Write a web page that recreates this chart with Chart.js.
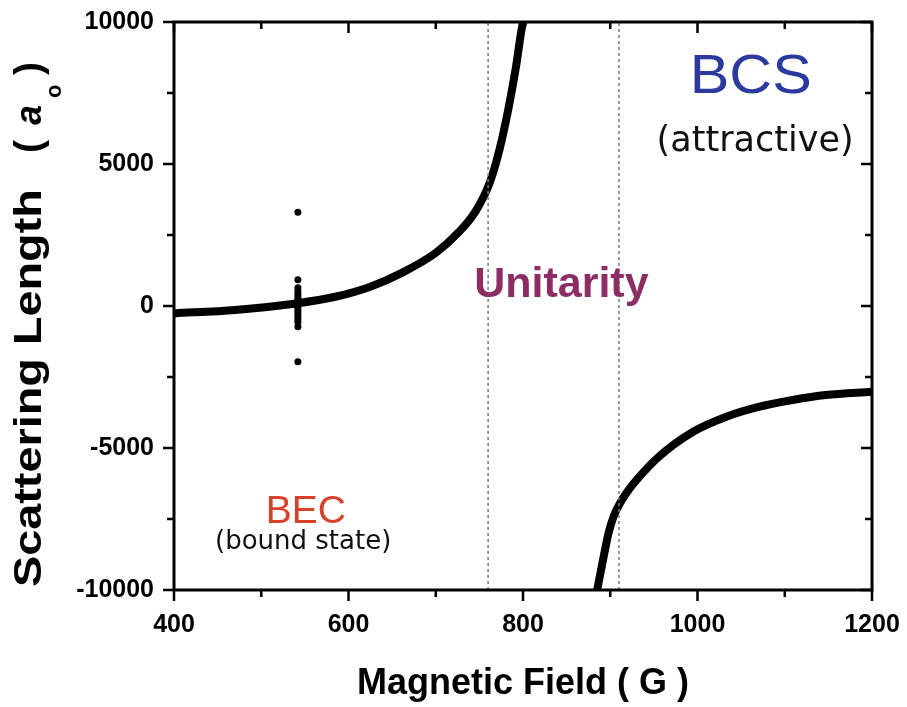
<!DOCTYPE html>
<html>
<head>
<title>Scattering length vs magnetic field</title>
<script src="https://cdn.jsdelivr.net/npm/chart.js@4/dist/chart.umd.min.js"></script>
<style>
body { margin: 0; background: #fff; }
#wrap { position: relative; width: 907px; height: 707px; }
</style>
</head>
<body>
<div id="wrap"><canvas id="chart"></canvas></div>

<script>
// values: field in G, scattering length in a0
const lowBranchField   = [400, 470, 540, 585, 625, 660, 700, 727, 746, 762, 773, 783, 792, 799, 800.5];
const lowBranchLength  = [-260, -140, 90, 325, 680, 1150, 1870, 2620, 3350, 4350, 5500, 6900, 8430, 9840, 10000];
const highBranchField  = [885, 892, 898, 904, 912, 921, 930, 956, 995, 1033, 1071, 1109, 1147, 1200];
const highBranchLength = [-10000, -8900, -8000, -7400, -6900, -6480, -6130, -5300, -4430, -3900, -3545, -3310, -3135, -3020];
const measuredField    = 542;
const measuredLength   = [3300, 920, 640, 520, 420, 330, 240, 150, 60, -30, -120, -210, -300, -390, -480, -570, -730, -1960];
const unitarityBounds  = [760, 910];
const xTicks = [400, 600, 800, 1000, 1200];
const yTicks = [-10000, -5000, 0, 5000, 10000];

const FONT = '"Liberation Sans", Arial, sans-serif';
const toPoints = (xs, ys) => xs.map((v, i) => ({x: v, y: ys[i]}));

// frame with outward ticks on bottom/left, inward on top/right
const frame = {
    id: 'frame',
    afterDatasetsDraw(chart) {
        const {ctx, chartArea: a, scales: {x, y}} = chart;
        ctx.save();
        ctx.strokeStyle = '#000';
        ctx.lineWidth = 2.5;
        ctx.beginPath();
        xTicks.forEach((v, i) => {
            const marks = [[v, 11]];
            if (i < xTicks.length - 1) marks.push([(v + xTicks[i + 1]) / 2, 7]);
            marks.forEach(([t, len]) => {
                const px = x.getPixelForValue(t);
                ctx.moveTo(px, a.bottom); ctx.lineTo(px, a.bottom + len);
                ctx.moveTo(px, a.top); ctx.lineTo(px, a.top + len);
            });
        });
        yTicks.forEach((v, i) => {
            const marks = [[v, 11]];
            if (i < yTicks.length - 1) marks.push([(v + yTicks[i + 1]) / 2, 7]);
            marks.forEach(([t, len]) => {
                const py = y.getPixelForValue(t);
                ctx.moveTo(a.left - len, py); ctx.lineTo(a.left, py);
                ctx.moveTo(a.right - len, py); ctx.lineTo(a.right, py);
            });
        });
        ctx.stroke();
        ctx.lineWidth = 3;
        ctx.strokeRect(a.left, a.top, a.right - a.left, a.bottom - a.top);
        ctx.restore();
    }
};

function stretchedText(ctx, text, px, py, font, color, sx) {
    ctx.save();
    ctx.translate(px, py);
    ctx.scale(sx, 1);
    ctx.font = font;
    ctx.fillStyle = color;
    ctx.textAlign = 'center';
    ctx.textBaseline = 'alphabetic';
    ctx.fillText(text, 0, 0);
    ctx.restore();
}

// region labels and the y axis title with italic a and subscript o
const labels = {
    id: 'labels',
    afterDraw(chart) {
        const {ctx, scales: {x, y}} = chart;
        const at = (f, l) => [x.getPixelForValue(f), y.getPixelForValue(l)];
        stretchedText(ctx, 'BCS', ...at(1061, 7500), '56px ' + FONT, '#2b3a9c', 1.06);
        stretchedText(ctx, '(attractive)', ...at(1066, 5460), '35px "DejaVu Sans"', '#111', 1);
        stretchedText(ctx, 'Unitarity', ...at(844, 317), 'bold 43px ' + FONT, '#8c2d63', 1);
        stretchedText(ctx, 'BEC', ...at(551, -7640), '39px ' + FONT, '#d8402a', 1);
        stretchedText(ctx, '(bound state)', ...at(548, -8556), '26px "DejaVu Sans"', '#111', 1);

        ctx.save();
        ctx.fillStyle = '#000';
        ctx.textBaseline = 'alphabetic';
        ctx.translate(41, 587);
        ctx.rotate(-Math.PI / 2);
        ctx.save();
        ctx.scale(1.2, 1);
        ctx.font = 'bold 39px ' + FONT;
        ctx.fillText('Scattering Length', 0, 0);
        ctx.restore();
        ctx.font = 'bold 39px ' + FONT;
        ctx.fillText('(', 434, 0);
        ctx.font = 'italic bold 36px ' + FONT;
        ctx.fillText('a', 462, 0);
        ctx.font = 'bold 22px ' + FONT;
        ctx.fillText('o', 489, 20);
        ctx.font = 'bold 39px ' + FONT;
        ctx.fillText(')', 512, 0);
        ctx.restore();
    }
};

const curveStyle = {
    showLine: true,
    borderColor: '#000',
    borderWidth: 8,
    pointRadius: 0,
    cubicInterpolationMode: 'monotone',
    clip: 0
};

const datasets = [
    ...unitarityBounds.map(b => ({
        data: toPoints([b, b], [yTicks[0], yTicks[yTicks.length - 1]]),
        showLine: true,
        borderColor: '#7a7a7a',
        borderWidth: 1.5,
        borderDash: [3, 3],
        pointRadius: 0,
        clip: 0
    })),
    Object.assign({data: toPoints(lowBranchField, lowBranchLength)}, curveStyle),
    Object.assign({data: toPoints(highBranchField, highBranchLength)}, curveStyle),
    {
        data: measuredLength.map(v => ({x: measuredField, y: v})),
        showLine: false,
        pointRadius: 3.5,
        pointBorderWidth: 0,
        backgroundColor: '#000'
    }
];

// keep the plot box where the layout padding puts it
function fixBox(width, height) {
    return s => {
        if (width) s.width = width;
        if (height) s.height = height;
        s.paddingLeft = s.paddingRight = s.paddingTop = s.paddingBottom = 0;
    };
}

Chart.defaults.font.family = FONT;
Chart.defaults.color = '#000';

new Chart(document.getElementById('chart'), {
    type: 'scatter',
    data: {datasets: datasets},
    options: {
        responsive: true,
        maintainAspectRatio: false,
        animation: false,
        events: [],
        layout: {padding: {left: 0, top: 22, right: 35, bottom: 0}},
        plugins: {legend: {display: false}, tooltip: {enabled: false}},
        scales: {
            x: {
                type: 'linear',
                min: xTicks[0],
                max: xTicks[xTicks.length - 1],
                afterBuildTicks: s => { s.ticks = xTicks.map(v => ({value: v})); },
                afterFit: fixBox(0, 117),
                grid: {display: false, drawTicks: false},
                border: {display: false},
                ticks: {
                    font: {size: 25, weight: 'bold'},
                    padding: 20,
                    maxRotation: 0,
                    autoSkip: false,
                    callback: v => String(v)
                },
                title: {
                    display: true,
                    text: 'Magnetic Field ( G )',
                    font: {size: 36, weight: 'bold'},
                    padding: {top: 0, bottom: 1}
                }
            },
            y: {
                type: 'linear',
                min: yTicks[0],
                max: yTicks[yTicks.length - 1],
                afterBuildTicks: s => { s.ticks = yTicks.map(v => ({value: v})); },
                afterFit: fixBox(174, 0),
                grid: {display: false, drawTicks: false},
                border: {display: false},
                ticks: {
                    font: {size: 25, weight: 'bold'},
                    padding: 20,
                    autoSkip: false,
                    callback: v => String(v)
                }
            }
        }
    },
    plugins: [frame, labels]
});
</script>

</body>
</html>
